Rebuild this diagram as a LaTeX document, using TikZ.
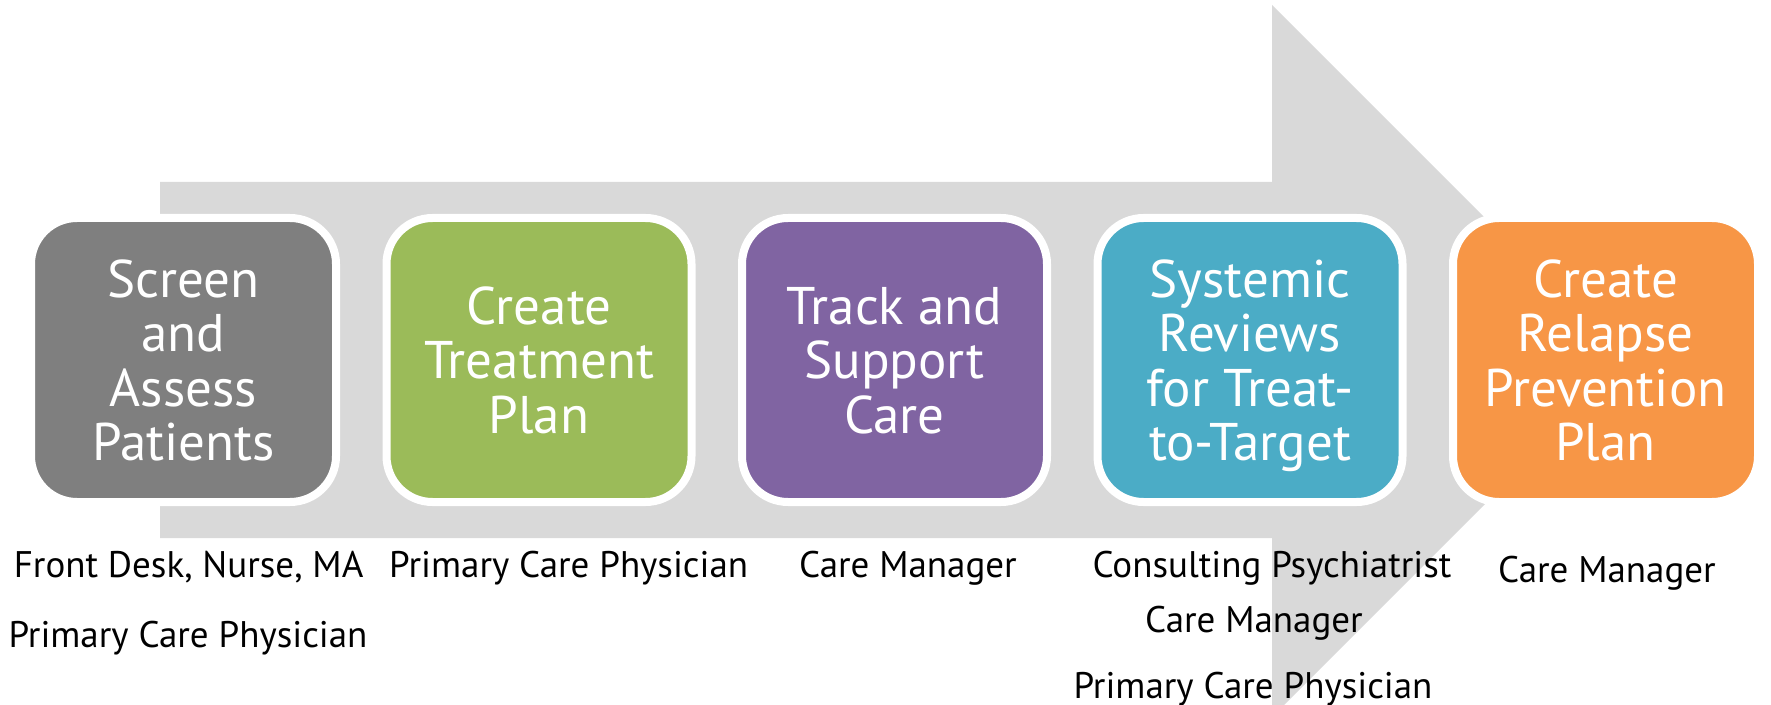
\documentclass[tikz,border=0pt]{standalone}
\usepackage{fontspec}
\setmainfont{PT Sans}
\usetikzlibrary{shadows}

\definecolor{flowgrey}{HTML}{D9D9D9}
\definecolor{screengrey}{HTML}{7F7F7F}
\definecolor{plangreen}{HTML}{9BBB59}
\definecolor{trackpurple}{HTML}{8064A2}
\definecolor{reviewblue}{HTML}{4BACC6}
\definecolor{relapseorange}{HTML}{F79646}

\begin{document}
\begin{tikzpicture}[x=0.5pt,y=-0.5pt,
  phase/.style={draw=white, line width=4pt, rounded corners=23pt,
    minimum width=152.5pt, minimum height=142pt, inner sep=0pt,
    text=white, align=center, text depth=0pt,
    font=\fontsize{26.5}{27.25}\selectfont,
    drop shadow={shadow xshift=0.5pt, shadow yshift=-1.5pt, opacity=0.3}},
  role/.style={anchor=base, inner sep=0pt, font=\fontsize{18.5}{22}\selectfont}]
  \clip (0,0) rectangle (1771,705);

  % big background arrow
  \fill[flowgrey] (160,182) -- (1272,182) -- (1272,5) -- (1628,361)
    -- (1272,717) -- (1272,538) -- (160,538) -- cycle;

  % the five steps
  \node[phase, fill=screengrey] (screen) at (183.5,360) {Screen\\and\\Assess\\Patients};
  \node[phase, fill=plangreen] (plan) at (539,360) {Create\\Treatment\\Plan};
  \node[phase, fill=trackpurple] (track) at (894.5,360) {Track and\\Support\\Care};
  \node[phase, fill=reviewblue] (review) at (1250,360) {Systemic\\Reviews\\for Treat-\\to-Target};
  \node[phase, fill=relapseorange] (relapse) at (1605.5,360) {Create\\Relapse\\Prevention\\Plan};

  % who does each step
  \node[role] (screenA) at (188.6,577) {Front Desk, Nurse, MA};
  \node[role] (screenB) at (188,647) {Primary Care Physician};
  \node[role] (planA) at (568.7,577) {Primary Care Physician};
  \node[role] (trackA) at (908,577) {Care Manager};
  \node[role] (reviewA) at (1272,577) {Consulting Psychiatrist};
  \node[role] (reviewB) at (1254,632) {Care Manager};
  \node[role] (reviewC) at (1253,698) {Primary Care Physician};
  \node[role] (relapseA) at (1607,582) {Care Manager};
\end{tikzpicture}
\end{document}
